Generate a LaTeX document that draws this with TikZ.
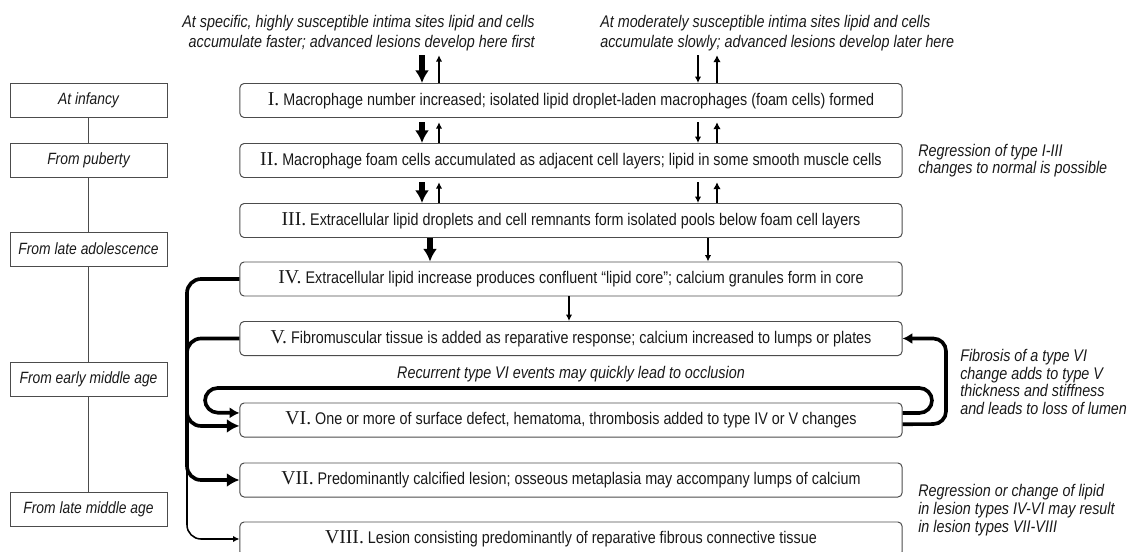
\documentclass[tikz,border=0pt]{standalone}
\usepackage{fontspec}
\setmainfont{Liberation Sans}[FakeStretch=0.85]
\newfontfamily\numfont{Liberation Serif}
\usetikzlibrary{arrows.meta}

\begin{document}
\begin{tikzpicture}[x=0.025cm,y=-0.025cm,
		stage/.style={draw=black!70,line width=0.7pt,rounded corners=3pt,
			minimum width=16.55cm,minimum height=0.85cm,text=black!90,
			font=\fontsize{12}{13}\selectfont},
		age/.style={draw=black!70,line width=0.6pt,minimum width=3.925cm,
			minimum height=0.85cm,text=black!90,font=\fontsize{11.6}{13}\selectfont\itshape},
		note/.style={text=black!90,inner sep=0pt,font=\fontsize{12}{12.6}\selectfont\itshape},
		heavy/.style={line width=3.6pt,-{Latex[length=9pt,width=10pt]}},
		medium/.style={line width=2.1pt,-{Latex[length=5pt,width=5.5pt]}},
		light/.style={line width=1.3pt,-{Latex[length=4.5pt,width=4.5pt]}},
		loop/.style={line width=2.6pt,rounded corners=9pt,-{Latex[length=7pt,width=8pt]}},
		bus/.style={line width=2.6pt,rounded corners=10pt}]
	\useasboundingbox (0,0) rectangle (1132,552);

	% the age column
	\node[age] (a1) at (88.5,100.5) {At infancy};
	\node[age] (a2) at (88.5,160.5) {From puberty};
	\node[age] (a3) at (88.5,249) {From late adolescence};
	\node[age] (a4) at (88.5,379) {From early middle age};
	\node[age] (a5) at (88.5,509) {From late middle age};
	\foreach \a/\b in {a1/a2,a2/a3,a3/a4,a4/a5}
		\draw[black!70,line width=0.6pt] (\a) -- (\b);

	% the lesion types
	\node[stage] (s1) at (571,100.5) {{\numfont\fontsize{14}{14}\selectfont I.} Macrophage number increased; isolated lipid droplet-laden macrophages (foam cells) formed};
	\node[stage] (s2) at (571,160.5) {{\numfont\fontsize{14}{14}\selectfont II.} Macrophage foam cells accumulated as adjacent cell layers; lipid in some smooth muscle cells};
	\node[stage] (s3) at (571,220.5) {{\numfont\fontsize{14}{14}\selectfont III.} Extracellular lipid droplets and cell remnants form isolated pools below foam cell layers};
	\node[stage] (s4) at (571,279) {{\numfont\fontsize{14}{14}\selectfont IV.} Extracellular lipid increase produces confluent ``lipid core''; calcium granules form in core};
	\node[stage] (s5) at (571,338.5) {{\numfont\fontsize{14}{14}\selectfont V.} Fibromuscular tissue is added as reparative response; calcium increased to lumps or plates};
	\node[stage] (s6) at (571,420) {{\numfont\fontsize{14}{14}\selectfont VI.} One or more of surface defect, hematoma, thrombosis added to type IV or V changes};
	\node[stage] (s7) at (571,480) {{\numfont\fontsize{14}{14}\selectfont VII.} Predominantly calcified lesion; osseous metaplasia may accompany lumps of calcium};
	\node[stage] (s8) at (571,539) {{\numfont\fontsize{14}{14}\selectfont VIII.} Lesion consisting predominantly of reparative fibrous connective tissue};

	% the notes
	\node[note,anchor=east,align=right,font=\fontsize{12}{14}\selectfont\itshape] (hi) at (535,33) {At specific, highly susceptible intima sites lipid and cells\\accumulate faster; advanced lesions develop here first};
	\node[note,anchor=west,align=left,font=\fontsize{12}{14}\selectfont\itshape] (lo) at (600,33) {At moderately susceptible intima sites lipid and cells\\accumulate slowly; advanced lesions develop later here};
	\node[note,anchor=west,align=left] (n1) at (918,160.5) {Regression of type I-III\\changes to normal is possible};
	\node[note,anchor=west,align=left] (n2) at (960,382) {Fibrosis of a type VI\\change adds to type V\\thickness and stiffness\\and leads to loss of lumen};
	\node[note,anchor=west,align=left] (n3) at (918,510) {Regression or change of lipid\\in lesion types IV-VI may result\\in lesion types VII-VIII};
	\node[note] (rec) at (571,374) {Recurrent type VI events may quickly lead to occlusion};

	% arrows between the early types
	\foreach \a/\b/\c in {hi/lo/s1,s1/s1/s2,s2/s2/s3} {
		\draw[heavy] ([yshift=-3pt]422,0 |- \a.south) -- (422,0 |- \c.north);
		\draw[light] (439,0 |- \c.north) -- ([yshift=-3pt]439,0 |- \a.south);
		\draw[light] ([yshift=-3pt]698,0 |- \b.south) -- (698,0 |- \c.north);
		\draw[medium] (717,0 |- \c.north) -- ([yshift=-3pt]717,0 |- \b.south);
	}
	\draw[heavy] (430,0 |- s3.south) -- (430,0 |- s4.north);
	\draw[light] (708,0 |- s3.south) -- (708,0 |- s4.north);
	\draw[light] (569,0 |- s4.south) -- (569,0 |- s5.north);

	% the bus on the left
	\draw[bus] (s4.west) -- (187,279) -- (187,480) -- (228,480);
	\draw[bus] (s5.west) -- (187,338.5) -- (187,370);
	\draw[heavy,line width=2.6pt,rounded corners=10pt] (187,400) -- (187,426) -- ([yshift=-4.2pt]s6.west);
	\draw[heavy,line width=2.6pt] (220,480) -- (s7.west);
	\draw[light,line width=1.1pt,rounded corners=10pt] (187,470) -- (187,539) -- (s8.west);

	% recurrent loop and fibrosis
	\draw[loop] ([yshift=5pt]s6.east) -- (932,413) -- (932,388) -- (205,388) -- (205,412.5) -- ([yshift=5pt]s6.west);
	\draw[loop] ([yshift=-3pt]s6.east) -- (946,424) -- (946,338.5) -- (s5.east);
\end{tikzpicture}
\end{document}
